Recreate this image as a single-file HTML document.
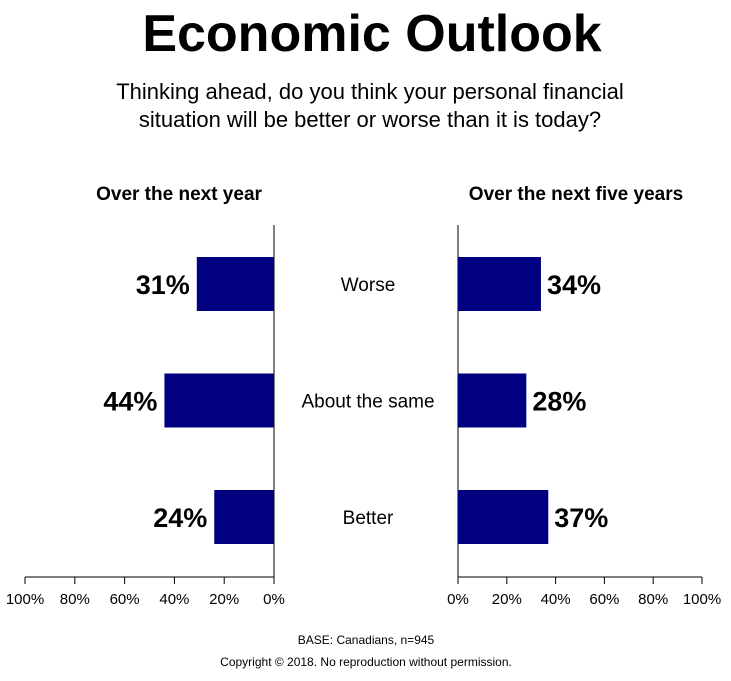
<!DOCTYPE html>
<html><head><meta charset="utf-8"><style>
body{margin:0;background:#fff;font-family:"Liberation Sans",Arial,sans-serif;}
</style></head><body>
<svg width="731" height="676" viewBox="0 0 731 676">
<text x="372" y="51" text-anchor="middle" font-size="52" font-weight="bold">Economic Outlook</text>
<text x="370" y="99" text-anchor="middle" font-size="22">Thinking ahead, do you think your personal financial</text>
<text x="370" y="127" text-anchor="middle" font-size="22">situation will be better or worse than it is today?</text>
<text x="179" y="200" text-anchor="middle" font-size="19" font-weight="bold">Over the next year</text>
<text x="576" y="200" text-anchor="middle" font-size="19" font-weight="bold">Over the next five years</text>
<g id="chart"></g>
<text x="366" y="644" text-anchor="middle" font-size="12">BASE: Canadians, n=945</text>
<text x="366" y="666" text-anchor="middle" font-size="12">Copyright © 2018. No reproduction  without permission.</text>
</svg>
<script>
const categories = ["Worse", "About the same", "Better"];
const nextYear = [31, 44, 24];
const fiveYears = [34, 28, 37];
const ticks = [0, 20, 40, 60, 80, 100];

const NS = "http://www.w3.org/2000/svg";
const g = document.getElementById("chart");
function mk(tag, attrs, text){const e=document.createElementNS(NS,tag);for(const k in attrs)e.setAttribute(k,attrs[k]);if(text!==undefined)e.textContent=text;g.appendChild(e);return e;}
const L0=274, L100=25, R0=458, R100=702, axisY=577, axisTop=225;
const xL=v=>L0-(L0-L100)*v/100;
const xR=v=>R0+(R100-R0)*v/100;
const yBand=i=>257+i*116.5, bh=54;

let e;
e=mk("line",{x1:L0,y1:axisTop,x2:L0,y2:axisY,stroke:"#000"});


e=mk("line",{x1:L100,y1:axisY,x2:L0,y2:axisY,stroke:"#000"});


e=mk("line",{x1:R0,y1:axisTop,x2:R0,y2:axisY,stroke:"#000"});


e=mk("line",{x1:R0,y1:axisY,x2:R100,y2:axisY,stroke:"#000"});



ticks.forEach(t=>{
  [[xL,'left'],[xR,'right']].forEach(([f,s])=>{
    e=mk("line",{x1:f(t),y1:axisY,x2:f(t),y2:axisY+7,stroke:"#000"});
    
    
    e=mk("text",{x:f(t),y:604,"text-anchor":"middle","font-size":15},t+"%");
    
    
  });
});

categories.forEach((c,i)=>{
  const y=yBand(i);
  e=mk("text",{x:368,y:y+bh/2+7,"text-anchor":"middle","font-size":19},c);
  
  
  const v1=nextYear[i];
  e=mk("rect",{x:xL(v1),y:y,width:L0-xL(v1),height:bh,fill:"#000080"});
  
  
  e=mk("text",{x:xL(v1)-7,y:y+bh/2+10,"text-anchor":"end","font-size":27,"font-weight":"bold"},v1+"%");
  
  
  const v2=fiveYears[i];
  e=mk("rect",{x:R0,y:y,width:xR(v2)-R0,height:bh,fill:"#000080"});
  
  
  e=mk("text",{x:xR(v2)+6,y:y+bh/2+10,"text-anchor":"start","font-size":27,"font-weight":"bold"},v2+"%");
  
  
});
</script>
</body></html>
